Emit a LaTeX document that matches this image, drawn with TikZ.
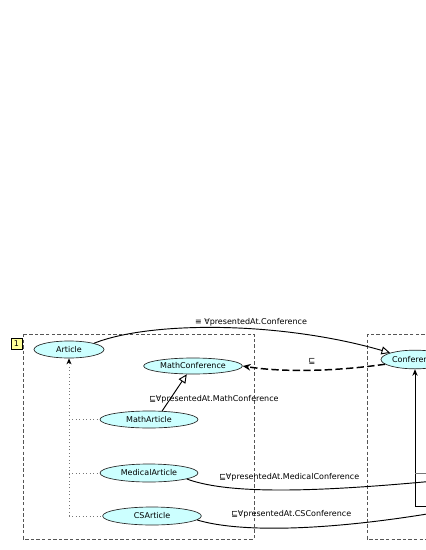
\documentclass[tikz,border=0pt]{standalone}
\usepackage{fontspec}
\setmainfont{DejaVu Sans}
\usetikzlibrary{shapes.geometric,arrows.meta}
\definecolor{clsfill}{HTML}{CCFFFF}
\definecolor{numfill}{HTML}{FFFF99}
\definecolor{grpline}{HTML}{555555}
\definecolor{dotgray}{HTML}{777777}
\begin{document}
\begin{tikzpicture}[x=0.75pt,y=-0.75pt,
  cls/.style={ellipse,draw=black!85,fill=clsfill,line width=0.5pt,inner sep=0pt,
    minimum height=12.75pt,font=\fontsize{6}{7}\selectfont},
  lbl/.style={inner sep=0pt,font=\fontsize{6}{7}\selectfont},
  grpbox/.style={draw=grpline,line width=0.6pt,dash pattern=on 2.6pt off 1.6pt},
  numbox/.style={draw=black,fill=numfill,line width=0.5pt,minimum width=8.25pt,
    minimum height=8.25pt,inner sep=0pt,font=\fontsize{6}{7}\selectfont},
  opentip/.style={line width=0.7pt,-{Triangle[open,length=6.5pt,width=6pt,fill=white]}},
  dashtip/.style={line width=1.1pt,dash pattern=on 5.5pt off 2.5pt,-{Stealth[length=6pt,width=5pt]}},
  dotline/.style={draw=dotgray,line width=0.6pt,dotted},
  dottip/.style={-{Stealth[length=4.5pt,width=3.75pt,black]}},
  plain/.style={line width=0.7pt}
]
\fill[white] (0,0) rectangle (425,550);
\useasboundingbox (0,0) rectangle (425,550);

% group boxes
\draw[grpbox] (23,334) rectangle (254,539);
\draw[grpbox] (367,334) rectangle (440,539);
\node[numbox] (num) at (16.5,343.5) {1};

% classes
\node[cls,minimum width=52.5pt] (art) at (69,349.5) {Article};
\node[cls,minimum width=74pt,minimum height=12pt] (mconf) at (193,366) {MathConference};
\node[cls,minimum width=73.5pt] (ma) at (149,419.5) {MathArticle};
\node[cls,minimum width=73.5pt,minimum height=13.5pt] (med) at (149,473) {MedicalArticle};
\node[cls,minimum width=74pt,minimum height=13.5pt] (cs) at (152,516) {CSArticle};
\node[cls,minimum width=51pt,minimum height=14pt] (conf) at (415,359.5) {Conference};

% labels
\node[lbl] (l1) at (251,322) {≡ ∀presentedAt.Conference};
\node[lbl] (l2) at (312,361) {⊑};
\node[lbl,anchor=west] (l3) at (149,399) {⊑∀presentedAt.MathConference};
\node[lbl,anchor=west] (l4) at (219,477) {⊑∀presentedAt.MedicalConference};
\node[lbl,anchor=west] (l5) at (231,514) {⊑∀presentedAt.CSConference};

% coordinates
\coordinate (j0) at (69,516);
\coordinate (j1) at (69,419.5);
\coordinate (j2) at (69,473);
\coordinate (medEnd) at (445,480);
\coordinate (csEnd) at (445,511);
\coordinate (rb) at (415,506);
\coordinate (rbx) at (440,506);
\coordinate (rg) at (415,473);
\coordinate (rgx) at (440,473);

% connectors
\draw[opentip] (art.14) .. controls (150,321) and (280,321) .. (conf.165);
\draw[dashtip] (conf.189) .. controls (330,372) and (280,372) .. (mconf.east);
\draw[opentip] (ma.33) -- (mconf.233);

\draw[dotline] (j0) -- (j1);
\draw[dotline,dottip] (j1) -- (art.south);
\draw[dotline] (j1) -- (ma.west);
\draw[dotline] (j2) -- (med.west);
\draw[dotline] (j0) -- (cs.west);

\draw[plain] (med.-9) .. controls (230,495) and (320,492) .. (medEnd);
\draw[plain] (cs.-5) .. controls (240,533) and (330,531) .. (csEnd);

\draw[plain,-{Stealth[length=5pt,width=4pt]}] (rbx) -- (rb) -- (conf.south);
\draw[draw=dotgray,line width=0.6pt] (rgx) -- (rg);
\end{tikzpicture}
\end{document}
